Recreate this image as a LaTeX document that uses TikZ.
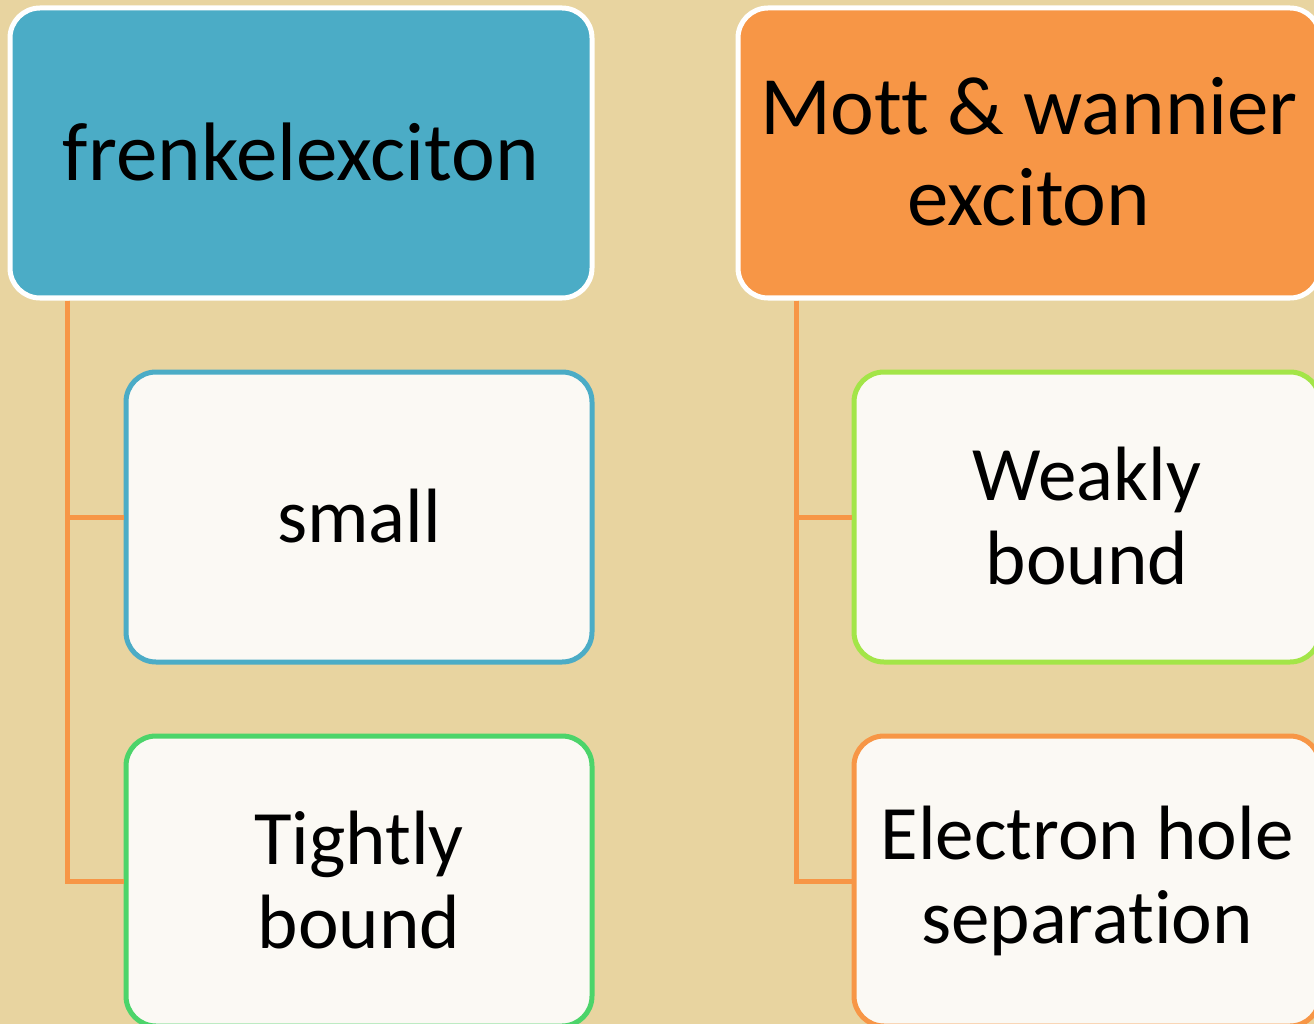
\documentclass[tikz,border=0pt]{standalone}
\usepackage{fontspec}
\setmainfont[Ligatures=NoCommon]{Carlito}
\definecolor{bgc}{HTML}{E8D4A0}
\definecolor{blueA}{HTML}{4BACC6}
\definecolor{orangeA}{HTML}{F79646}
\definecolor{greenA}{HTML}{4CD46A}
\definecolor{limeA}{HTML}{A3E548}
\definecolor{cardc}{HTML}{FBF9F4}
\tikzset{
  parentbox/.style={rectangle, rounded corners=30pt, draw=white, line width=5pt,
    minimum width=582pt, minimum height=290pt, align=center,
    font=\fontsize{83}{91}\selectfont, text=black, inner sep=0pt},
  childbox/.style={rectangle, rounded corners=30pt, fill=cardc, line width=5pt,
    minimum width=466pt, minimum height=290pt, align=center,
    font=\fontsize{77}{84}\selectfont, text=black, inner sep=0pt},
  conn/.style={draw=orangeA, line width=5pt}
}
\begin{document}
\begin{tikzpicture}[x=1pt,y=-1pt]
\useasboundingbox (0,0) rectangle (1314,1024);
\clip (0,0) rectangle (1314,1024);
\fill[bgc] (0,0) rectangle (1314,1024);
% parents
\node[parentbox, fill=blueA] (p1) at (301,153) {\raisebox{3pt}{frenkelexciton}};
\node[parentbox, fill=orangeA] (p2) at (1029,153) {\raisebox{3pt}{Mott \& wannier}\\\raisebox{3pt}{exciton}};
% children
\node[childbox, draw=blueA] (c1) at (359,517) {\raisebox{3pt}{small}};
\node[childbox, draw=greenA] (c2) at (359,881) {\raisebox{3pt}{Tightly}\\\raisebox{3pt}{bound}};
\node[childbox, draw=limeA] (c3) at (1087,517) {\raisebox{3pt}{Weakly}\\\raisebox{3pt}{bound}};
\node[childbox, draw=orangeA] (c4) at (1087,881) {\raisebox{3pt}{Electron hole}\\\raisebox{3pt}{separation}};
% connectors
\draw[conn] ([xshift=60pt]p1.south west) |- (c1.west);
\draw[conn] ([xshift=60pt]p1.south west) |- (c2.west);
\draw[conn] ([xshift=61pt]p2.south west) |- (c3.west);
\draw[conn] ([xshift=61pt]p2.south west) |- (c4.west);
\end{tikzpicture}
\end{document}
